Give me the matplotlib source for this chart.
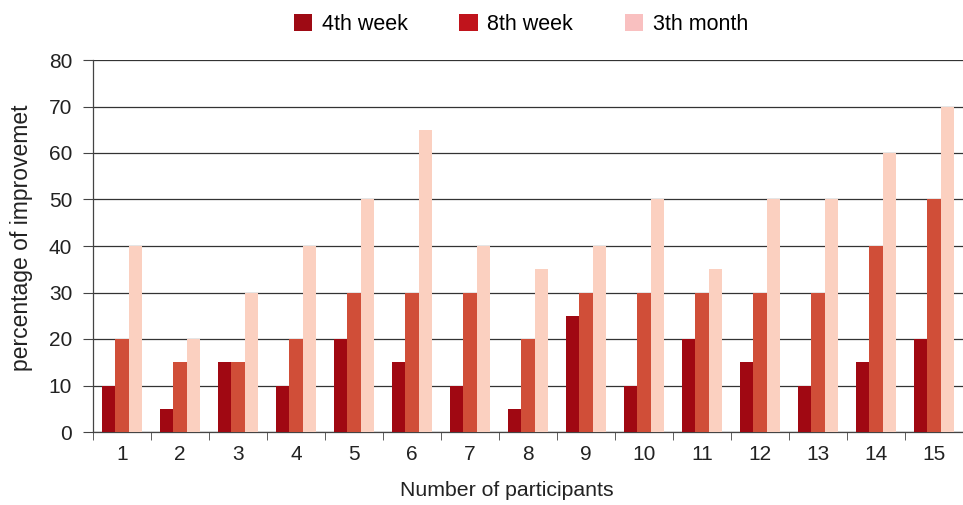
import matplotlib
matplotlib.use("Agg")
import matplotlib.pyplot as plt
from matplotlib.patches import Patch
import numpy as np

plt.rcParams['font.family'] = ['Liberation Sans', 'DejaVu Sans']

participants = list(range(1, 16))
week4 = [10, 5, 15, 10, 20, 15, 10, 5, 25, 10, 20, 15, 10, 15, 20]
week8 = [20, 15, 15, 20, 30, 30, 30, 20, 30, 30, 30, 30, 30, 40, 50]
month3 = [40, 20, 30, 40, 50, 65, 40, 35, 40, 50, 35, 50, 50, 60, 70]
series_names = ["4th week", "8th week", "3th month"]
bar_colors = ["#a00812", "#d04e38", "#fbd0c0"]
legend_colors = ["#9e0a14", "#c0141c", "#f9c0c0"]

fig = plt.figure(figsize=(9.63, 5.05), dpi=100)
ax = fig.add_axes([93/963, 1-432/505, (963-93)/963, (432-60)/505])

x = np.arange(1, 16)
w = 0.23
for i, (vals, c) in enumerate(zip([week4, week8, month3], bar_colors)):
    ax.bar(x + (i - 1) * w, vals, width=w, color=c, zorder=3, linewidth=0)

ax.set_xlim(0.5, 15.5)
ax.set_ylim(0, 80)
ax.set_yticks(range(0, 81, 10))
ax.set_xticks(x)
ax.set_xticklabels([str(p) for p in participants])
ax.set_xticks(np.arange(0.5, 16, 1), minor=True)
ax.tick_params(axis='x', which='major', length=0, labelsize=15, pad=9, colors='#222222')
ax.tick_params(axis='x', which='minor', length=6, color='#444444', direction='out')
ax.tick_params(axis='y', length=7, color='#444444', labelsize=15, pad=8, labelcolor='#222222')
ax.yaxis.grid(True, color='#333333', linewidth=0.9, zorder=0)
ax.set_axisbelow(True)
for s in ['top', 'right']:
    ax.spines[s].set_visible(False)
for s in ['left', 'bottom']:
    ax.spines[s].set_color('#444444')
    ax.spines[s].set_linewidth(0.9)

ax.set_xlabel("Number of participants", fontsize=15.3, color='#222222')
ax.set_ylabel("percentage of improvemet", fontsize=16.5, color='#222222')
ax.xaxis.set_label_coords((507 - 93) / 870, -59 / 372, transform=ax.transAxes)
ax.yaxis.set_label_coords(-71 / 870, (432 - 238) / 372, transform=ax.transAxes)
ax.xaxis.label.set_va('center')
ax.yaxis.label.set_va('center')

handles = [Patch(facecolor=c, edgecolor='none') for c in legend_colors]
fig.legend(handles, series_names, loc='center', bbox_to_anchor=(0.541, 0.952), ncol=3,
           frameon=False, fontsize=15.5, handlelength=0.85, handleheight=0.85,
           columnspacing=2.4, handletextpad=0.45)

fig.savefig("out.png", dpi=100)
